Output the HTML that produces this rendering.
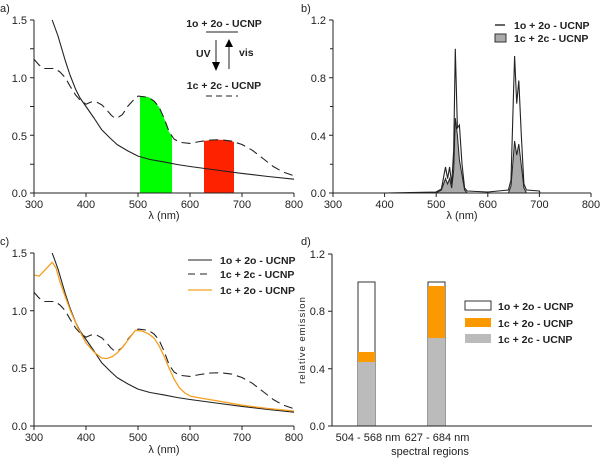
<!DOCTYPE html>
<html><head><meta charset="utf-8"><style>
body{margin:0;background:#fff}
svg{display:block;font-family:"Liberation Sans",sans-serif}
text{font-size:11px;fill:#222}
.b{font-weight:bold;font-size:10.5px}
</style></head><body>
<svg width="600" height="460" viewBox="0 0 600 460">
<defs>
<g id="curves">
<polyline fill="none" stroke="#222" stroke-width="1.1" stroke-linejoin="round" points="52.2,20 58,36 65.2,60.4 70,75 75.6,89.2 80,98 86,106.5 94,118 101.6,129.6 110,138 117.2,144.6 128,151 138,156.1 150,159.5 164,161.9 177,164.5 190,166.5 216,170 242,173.4 268,176.5 294,179.2"/>
<polyline fill="none" stroke="#222" stroke-width="1.1" stroke-dasharray="9,5" stroke-linejoin="round" points="34,59.3 39,65 44.4,68.5 54.8,68.5 60,72 65.2,77.7 70,86 75.6,95 80,100 86,104.2 91,102 96.4,101.9 102,105 106.8,110 111,115 114.6,118 118,117.5 122.4,114.6 128,106 132.8,100.8 138,96.1 148.4,97.3 154,101 158.8,106.5 164,118 169.2,131.9 174,139 179.6,142.3 190,143.4 200,141.5 210.8,140 221,139.8 231.6,141.1 242,144.5 252.4,150.3 263,158.5 273.2,166.5 283,172 294,175.7"/>
</g>
</defs>
<!-- panel a -->
<text x="0" y="12">a)</text>
<polygon fill="#0f0" points="140,193 140,96 148.4,97 154,101 159,107 164,118 169,132 172,136 172,193"/>
<polygon fill="#ff2200" points="204,193 204,141 210.8,140 221,139.8 231.6,141.1 234,142 234,193"/>
<use href="#curves"/>
<g stroke="#222" fill="none"><path d="M34,20V193H294M30,20H34M30,106.5H34M30,77.7H34M30,135.3H34M30,164.2H34M30,48.8H34M30,193H34M34,193v4M86,193v4M138,193v4M190,193v4M242,193v4M294,193v4"/></g>
<g text-anchor="end"><text x="27" y="24">1.5</text><text x="27" y="82">1.0</text><text x="27" y="140">0.5</text><text x="27" y="197">0.0</text></g>
<g text-anchor="middle"><text x="34" y="208">300</text><text x="86" y="208">400</text><text x="138" y="208">500</text><text x="190" y="208">600</text><text x="242" y="208">700</text><text x="294" y="208">800</text><text x="164" y="219">λ (nm)</text></g>
<text class="b" x="224" y="27" text-anchor="middle">1o + 2o - UCNP</text>
<line x1="206" y1="32" x2="238" y2="32" stroke="#222"/>
<text class="b" x="224" y="89" text-anchor="middle">1c + 2c - UCNP</text>
<line x1="206" y1="96" x2="238" y2="96" stroke="#222" stroke-dasharray="6,4"/>
<line x1="216" y1="40" x2="216" y2="63" stroke="#222"/><polygon points="212,62 220,62 216,71"/>
<line x1="229" y1="45" x2="229" y2="69" stroke="#222"/><polygon points="225,47 233,47 229,39"/>
<text class="b" x="196" y="57" font-size="9">UV</text><text class="b" x="239" y="56" font-size="9">vis</text>
<!-- panel b -->
<text x="301" y="12">b)</text>
<polygon fill="#aaa" points="436,193 441.4,190 445.5,178.6 447.6,184 449.6,178.6 451.7,188 453.7,170 455.3,118 457.4,135 459.4,159.8 462,175 464.6,190 467.2,193 508.4,193 511,186 514.6,141 516.7,155 518.8,144 521.3,165 523.9,188 526.5,193"/>
<polyline fill="none" stroke="#222" stroke-width="1" points="436,193 441.4,190 445.5,178.6 447.6,184 449.6,178.6 451.7,188 453.7,170 455.3,118 457.4,135 459.4,159.8 462,175 464.6,190 467.2,193 508.4,193 511,186 514.6,141 516.7,155 518.8,144 521.3,165 523.9,188 526.5,193"/>
<polyline fill="none" stroke="#222" stroke-width="1.1" points="384.6,193 436,192 441.4,189 445.5,167 447.6,178.6 449.6,167 451.7,184 453.7,150 455.3,48.8 457.4,128 459.4,125 462,164 464.6,188 467.2,191 487.8,192 508.4,190 511,180 514.6,56 516.7,103.6 518.8,80.5 521.3,135 523.9,184 526.5,190 539.4,191 540,193"/>
<g stroke="#222" fill="none"><path d="M333,20V193H591M329,20H333M329,77.7H333M329,135.3H333M329,193H333M330,48.8H333M330,106.5H333M330,164.2H333M333,193v4M384.6,193v4M436.2,193v4M487.8,193v4M539.4,193v4M591,193v4"/></g>
<g text-anchor="end"><text x="326" y="24">1.2</text><text x="326" y="82">0.8</text><text x="326" y="140">0.4</text><text x="326" y="197">0.0</text></g>
<g text-anchor="middle"><text x="333" y="208">300</text><text x="384.6" y="208">400</text><text x="436.2" y="208">500</text><text x="487.8" y="208">600</text><text x="539.4" y="208">700</text><text x="591" y="208">800</text><text x="462" y="219">λ (nm)</text></g>
<line x1="495" y1="25" x2="505" y2="25" stroke="#666" stroke-width="2"/>
<rect x="495" y="34" width="11" height="8" fill="#aaa" stroke="#333"/>
<text class="b" x="514" y="29">1o + 2o - UCNP</text><text class="b" x="514" y="42">1c + 2c - UCNP</text>
<!-- panel c -->
<text x="0" y="245">c)</text>
<g transform="translate(0,233)"><use href="#curves"/></g>
<polyline fill="none" stroke="#f5a020" stroke-width="1.3" stroke-linejoin="round" points="34,275 39.2,276.1 45,270 52.2,262.3 56,268 60,281.9 65,296 70.4,310.7 78,328 86,343 94,352 101.6,358 107,358.5 112,356.8 117,353 122.4,347.6 128,340 135.4,330.3 142,331 148.4,333.8 154,338 158.8,345.3 164,356 169.2,368.4 174,379 179.6,388 185,393 190,396 203,398.5 216,400.6 242,405.2 268,408.5 294,411"/>
<g stroke="#222" fill="none"><path d="M34,253V426H294M30,253H34M30,310.7H34M30,368.4H34M30,426H34M34,426v4M86,426v4M138,426v4M190,426v4M242,426v4M294,426v4"/></g>
<g text-anchor="end"><text x="27" y="257">1.5</text><text x="27" y="315">1.0</text><text x="27" y="372">0.5</text><text x="27" y="430">0.0</text></g>
<g text-anchor="middle"><text x="34" y="441">300</text><text x="86" y="441">400</text><text x="138" y="441">500</text><text x="190" y="441">600</text><text x="242" y="441">700</text><text x="294" y="441">800</text><text x="164" y="453">λ (nm)</text></g>
<line x1="188" y1="260" x2="212" y2="260" stroke="#222"/>
<line x1="188" y1="274" x2="212" y2="274" stroke="#222" stroke-dasharray="7,5"/>
<line x1="188" y1="290" x2="212" y2="290" stroke="#f5a020" stroke-width="1.3"/>
<text class="b" x="220" y="264">1o + 2o - UCNP</text><text class="b" x="220" y="278">1c + 2c - UCNP</text><text class="b" x="220" y="294">1c + 2o - UCNP</text>
<!-- panel d -->
<text x="301" y="245">d)</text>
<rect x="358" y="282" width="17" height="144" fill="#fff" stroke="#333"/>
<rect x="358" y="352" width="17" height="10" fill="#fb9a00"/>
<rect x="358" y="362" width="17" height="64" fill="#bbb"/>
<rect x="428" y="282" width="17" height="144" fill="#fff" stroke="#333"/>
<rect x="428" y="286" width="17" height="52" fill="#fb9a00"/>
<rect x="428" y="338" width="17" height="88" fill="#bbb"/>
<g stroke="#222" fill="none"><path d="M332,254V426H592M328,254H332M328,311.3H332M328,368.7H332M328,426H332"/></g>
<g text-anchor="end"><text x="325" y="258">1.2</text><text x="325" y="315">0.8</text><text x="325" y="373">0.4</text><text x="325" y="430">0.0</text></g>
<text x="305" y="340" text-anchor="middle" transform="rotate(-90 305 340)" style="font-size:9.5px;letter-spacing:1px">relative emission</text>
<g text-anchor="middle"><text x="368" y="441">504 - 568 nm</text><text x="437" y="441">627 - 684 nm</text><text x="430" y="455">spectral regions</text></g>
<rect x="465" y="301" width="26" height="9" fill="#fff" stroke="#333"/>
<rect x="465" y="318" width="26" height="9" fill="#fb9a00"/>
<rect x="465" y="334" width="26" height="9" fill="#bbb"/>
<text class="b" x="498" y="310">1o + 2o - UCNP</text><text class="b" x="498" y="327">1c + 2o - UCNP</text><text class="b" x="498" y="343">1c + 2c - UCNP</text>
</svg>
</body></html>
